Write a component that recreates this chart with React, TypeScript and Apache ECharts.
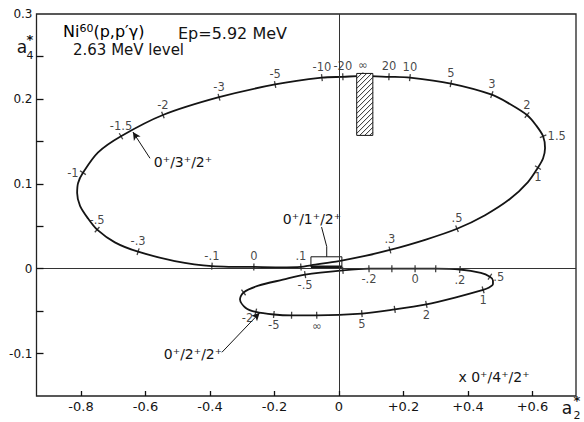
import React, { useEffect, useRef } from 'react';
import * as echarts from 'echarts';

// Axis ranges
const A2_MIN = -0.938;
const A2_MAX = 0.735;
const A4_MIN = -0.15;
const A4_MAX = 0.3;

const xTickValues = [-0.8, -0.6, -0.4, -0.2, 0, 0.2, 0.4, 0.6];
const xTickLabels = ['-0.8', '-0.6', '-0.4', '-0.2', '0', '+0.2', '+0.4', '+0.6'];
const yTickValues = [-0.1, -0.05, 0, 0.05, 0.1, 0.15, 0.2, 0.25];
const yLabelValues = [-0.1, 0, 0.1, 0.2, 0.3];
const yTickLabels = ['-0.1', '0', '0.1', '0.2', '0.3'];

// 0+/3+/2+ locus, closed loop; delta = mixing ratio at a tick ('' = unlabeled tick, null = no tick)
const ell3A2 = [
  -0.264, -0.183, -0.118, -0.087, 0.0, 0.081, 0.158, 0.267, 0.366, 0.453, 0.53, 0.586, 0.617, 0.633, 0.639,
  0.633, 0.611, 0.583, 0.53, 0.474, 0.347, 0.22, 0.155, 0.074, 0.012, -0.053, -0.198, -0.372, -0.546, -0.676,
  -0.747, -0.794, -0.809, -0.812, -0.803, -0.778, -0.75, -0.695, -0.623, -0.509, -0.394, -0.264,
];
const ell3A4 = [
  0.002, 0.0015, 0.002, 0.004, 0.009, 0.015, 0.022, 0.034, 0.047, 0.063, 0.082, 0.102, 0.119, 0.13, 0.142,
  0.156, 0.169, 0.181, 0.194, 0.205, 0.218, 0.225, 0.226, 0.227, 0.226, 0.225, 0.217, 0.202, 0.181, 0.156,
  0.137, 0.113, 0.101, 0.089, 0.074, 0.059, 0.046, 0.031, 0.02, 0.009, 0.003, 0.002,
];
const ell3Delta: (string | null)[] = [
  '0', null, '.1', null, null, null, '.3', null, '.5', null, null, null, '1', null, null,
  '1.5', null, '2', null, '3', '5', '10', '20', '∞', '-20', '-10', '-5', '-3', '-2', '-1.5',
  null, '-1', null, null, null, null, '-.5', null, '-.3', null, '-.1', null,
];

// 0+/2+/2+ locus, closed loop
const ell2A2 = [
  0.236, 0.3, 0.375, 0.44, 0.468, 0.4775, 0.4775, 0.464, 0.447, 0.36, 0.271, 0.173, 0.071, -0.069, -0.147,
  -0.202, -0.258, -0.29, -0.307, -0.296, -0.25, -0.174, -0.105, 0.012, 0.093, 0.164, 0.236,
];
const ell2A4 = [
  0.0, 0.0, -0.001, -0.005, -0.0095, -0.014, -0.018, -0.0225, -0.025, -0.034, -0.042, -0.048, -0.053, -0.055, -0.055,
  -0.054, -0.051, -0.046, -0.036, -0.028, -0.02, -0.013, -0.007, -0.002, 0.0, 0.0, 0.0,
];
const ell2Delta: (string | null)[] = [
  '0', '', '.2', null, '.5', null, null, null, '1', null, '2', '', '5', '∞', '',
  '-5', '-2', null, null, '', null, null, '-.5', '', '-.2', '', null,
];

// 0+/1+/2+ locus (degenerate, a short segment) and its bracket
const ell1A2 = [-0.087, 0.009];
const ell1A4 = [0.002, 0.002];
const bracketA2 = [-0.087, -0.087, 0.009, 0.009];
const bracketA4 = [0.002, 0.014, 0.014, 0.002];
const leaderA2 = [-0.038, -0.038, -0.054];
const leaderA4 = [0.014, 0.026, 0.049];

// Experimental region (hatched)
const boxA2 = [0.055, 0.105];
const boxA4 = [0.157, 0.23];

// Arrows from curve names to their loci: [fromA2, fromA4, toA2, toA4]
const arrow3 = [-0.586, 0.13, -0.639, 0.161];
const arrow2 = [-0.363, -0.0985, -0.246, -0.052];

const FONT = 'DejaVu Sans';
const INK = '#141414';

const GRID = { left: 36.5, right: 8, top: 14, bottom: 26 };
const W = 584;
const H = 422;
const PX_X = (W - GRID.left - GRID.right) / (A2_MAX - A2_MIN);
const PX_Y = (H - GRID.top - GRID.bottom) / (A4_MAX - A4_MIN);

const ell3Side: Record<string, string> = { '1.5': 'right', '-1': 'left', '1': 'bottom' };
const ell2Side: Record<string, string> = { '.5': 'right', '-2': 'left' };
const ell2Offset: Record<string, number[]> = { '-2': [0, 6] };

function pairs(xs: number[], ys: number[]) {
  return xs.map((x, i) => [x, ys[i]]);
}

function tickSeries(
  a2: number[],
  a4: number[],
  delta: (string | null)[],
  defaultSide: string,
  sides: Record<string, string>,
  offsets: Record<string, number[]>
) {
  const m = a2.length - 1;
  const data: any[] = [];
  for (let i = 0; i < m; i++) {
    const d = delta[i];
    if (d === null) continue;
    const prev = (i - 1 + m) % m;
    const next = (i + 1) % m;
    const dx = (a2[next] - a2[prev]) * PX_X;
    const dy = (a4[next] - a4[prev]) * PX_Y;
    const ang = (Math.atan2(dy, dx) * 180) / Math.PI;
    data.push({
      value: [a2[i], a4[i]],
      symbolRotate: ang,
      label: {
        show: d !== '',
        formatter: d,
        position: sides[d] || defaultSide,
        offset: offsets[d] || [0, 0],
        color: INK,
        fontSize: 11.5,
        fontFamily: FONT,
        distance: 1,
      },
    });
  }
  return {
    type: 'scatter',
    symbol: 'rect',
    symbolSize: [1.3, 7],
    itemStyle: { color: INK },
    z: 4,
    label: { fontSize: 11.5, distance: 1, color: INK, fontFamily: FONT },
    emphasis: { disabled: true },
    data,
  };
}

// Short inward ticks on the bottom (x) and left (y) frame edges
function frameTickSegments() {
  const xLen = 5 / PX_Y;
  const yLen = 7 / PX_X;
  const xs = xTickValues.map((v) => [{ coord: [v, A4_MIN] }, { coord: [v, A4_MIN + xLen] }]);
  const ys = yTickValues.map((v) => [{ coord: [A2_MIN, v] }, { coord: [A2_MIN + yLen, v] }]);
  return [...xs, ...ys];
}

function findLabel(values: number[], labels: string[], v: number) {
  const i = values.findIndex((t) => Math.abs(t - v) < 1e-9);
  return i >= 0 ? labels[i] : '';
}

function txt(x: number, y: number, text: string, size: number, extra: any = {}) {
  return {
    type: 'text',
    x,
    y,
    style: {
      text,
      font: `${size}px "${FONT}"`,
      fill: INK,
      align: 'center',
      verticalAlign: 'middle',
      ...extra,
    },
  };
}

export default function App() {
  const ref = useRef<HTMLDivElement>(null);

  useEffect(() => {
    if (!ref.current) return;
    const chart = echarts.init(ref.current, null, { renderer: 'svg' });

    const curveStyle = { color: INK, width: 1.8 };

    const option: any = {
      animation: false,
      backgroundColor: '#ffffff',
      textStyle: { fontFamily: FONT, color: INK },
      grid: {
        left: GRID.left,
        right: GRID.right,
        top: GRID.top,
        bottom: GRID.bottom,
        show: true,
        borderColor: '#222',
        borderWidth: 1.3,
        backgroundColor: 'transparent',
      },
      xAxis: {
        type: 'value',
        min: A2_MIN,
        max: A2_MAX,
        axisLine: { show: false },
        splitLine: { show: false },
        axisTick: { show: false },
        axisLabel: {
          customValues: xTickValues,
          formatter: (v: number) => findLabel(xTickValues, xTickLabels, v),
          fontSize: 13,
          fontFamily: FONT,
          color: INK,
          margin: 4,
        },
      },
      yAxis: {
        type: 'value',
        min: A4_MIN,
        max: A4_MAX,
        axisLine: { show: false },
        splitLine: { show: false },
        axisTick: { show: false },
        axisLabel: {
          customValues: yLabelValues,
          formatter: (v: number) => findLabel(yLabelValues, yTickLabels, v),
          fontSize: 12,
          fontFamily: FONT,
          color: INK,
          margin: 4,
        },
      },
      series: [
        {
          name: '0+/3+/2+',
          type: 'line',
          data: pairs(ell3A2, ell3A4),
          smooth: 0.3,
          symbol: 'none',
          lineStyle: curveStyle,
          z: 3,
          markLine: {
            silent: true,
            symbol: 'none',
            label: { show: false },
            lineStyle: { type: 'solid', color: '#333', width: 1 },
            data: [{ xAxis: 0 }, { yAxis: 0 }],
          },
        },
        {
          name: '0+/2+/2+',
          type: 'line',
          data: pairs(ell2A2, ell2A4),
          smooth: 0.3,
          symbol: 'none',
          lineStyle: curveStyle,
          z: 3,
          markLine: {
            silent: true,
            symbol: ['none', 'arrow'],
            symbolSize: [6, 8],
            label: { show: false },
            lineStyle: { type: 'solid', color: INK, width: 1 },
            data: [
              [{ coord: [arrow3[0], arrow3[1]] }, { coord: [arrow3[2], arrow3[3]] }],
              [{ coord: [arrow2[0], arrow2[1]] }, { coord: [arrow2[2], arrow2[3]] }],
            ],
          },
        },
        {
          name: '0+/1+/2+',
          type: 'line',
          data: pairs(ell1A2, ell1A4),
          symbol: 'none',
          lineStyle: { color: INK, width: 3 },
          z: 3,
        },
        {
          name: 'bracket',
          type: 'line',
          data: pairs(bracketA2, bracketA4),
          symbol: 'none',
          lineStyle: { color: INK, width: 1 },
          z: 3,
          markLine: {
            silent: true,
            symbol: 'none',
            label: { show: false },
            lineStyle: { type: 'solid', color: '#111', width: 1.3 },
            data: frameTickSegments(),
          },
        },
        {
          name: 'leader',
          type: 'line',
          data: pairs(leaderA2, leaderA4),
          symbol: 'none',
          lineStyle: { color: INK, width: 1 },
          z: 3,
        },
        tickSeries(ell3A2, ell3A4, ell3Delta, 'top', ell3Side, {}),
        tickSeries(ell2A2, ell2A4, ell2Delta, 'bottom', ell2Side, ell2Offset),
        {
          name: 'measured',
          type: 'custom',
          z: 5,
          data: [[boxA2[0], boxA2[1], boxA4[0], boxA4[1]]],
          renderItem: (_params: any, api: any) => {
            const tl = api.coord([api.value(0), api.value(3)]);
            const br = api.coord([api.value(1), api.value(2)]);
            const left = tl[0];
            const top = tl[1];
            const right = br[0];
            const bottom = br[1];
            const children: any[] = [
              {
                type: 'rect',
                shape: { x: left, y: top, width: right - left, height: bottom - top },
                style: { fill: '#fff', stroke: INK, lineWidth: 1 },
              },
            ];
            const step = 5;
            for (let c = left + top + step; c < right + bottom; c += step) {
              const x1 = Math.max(left, c - bottom);
              const x2 = Math.min(right, c - top);
              if (x2 <= x1) continue;
              children.push({
                type: 'line',
                shape: { x1, y1: c - x1, x2, y2: c - x2 },
                style: { stroke: INK, lineWidth: 0.9 },
              });
            }
            return { type: 'group', children };
          },
        },
      ],
      graphic: [
        {
          type: 'text',
          left: 63,
          top: 23,
          style: {
            text: '{n|Ni}{s|60}{n|(p,p′γ)}',
            rich: {
              n: { fontSize: 16, fontFamily: FONT, color: INK, lineHeight: 16, verticalAlign: 'bottom' },
              s: { fontSize: 11, fontFamily: FONT, color: INK, lineHeight: 16, verticalAlign: 'top' },
            },
          },
        },
        { type: 'text', left: 178, top: 25, style: { text: 'Ep=5.92 MeV', font: `16px "${FONT}"`, fill: INK } },
        { type: 'text', left: 73, top: 42, style: { text: '2.63 MeV level', font: `15px "${FONT}"`, fill: INK } },
        txt(22, 47, 'a', 17),
        txt(30, 55, '4', 11),
        txt(30, 39, '*', 13, { font: `bold 13px "${FONT}"` }),
        txt(567, 408, 'a', 17),
        txt(577, 415, '2', 11),
        txt(577, 400, '*', 13, { font: `bold 13px "${FONT}"` }),
        txt(183, 162, '0⁺/3⁺/2⁺', 14),
        txt(312, 219, '0⁺/1⁺/2⁺', 14),
        txt(193, 354, '0⁺/2⁺/2⁺', 14),
        txt(494, 377, 'x 0⁺/4⁺/2⁺', 14),
      ],
    };

    chart.setOption(option);
    return () => chart.dispose();
  }, []);

  return (
    <div
      ref={ref}
      style={{ position: 'fixed', left: 0, top: 0, width: W, height: H, background: '#fff' }}
    />
  );
}
